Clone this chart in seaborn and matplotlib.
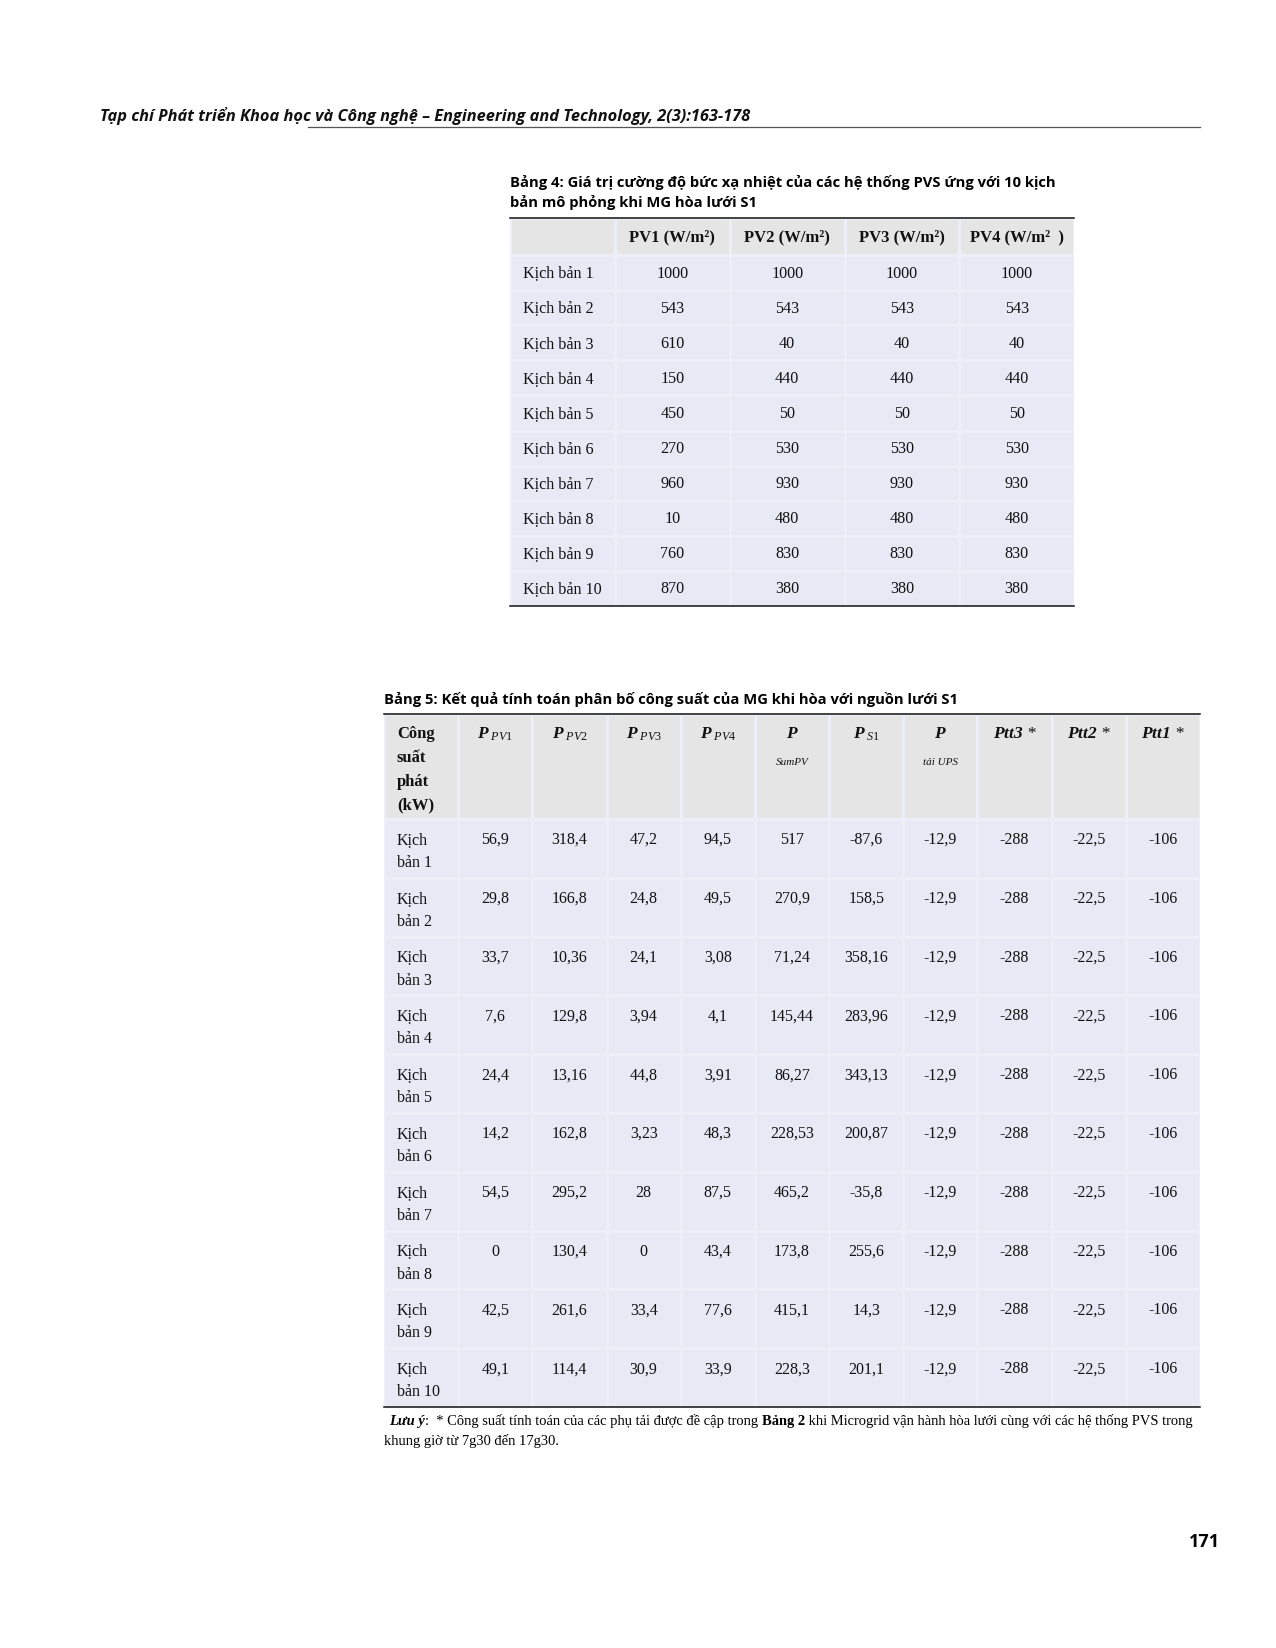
import numpy as np
import matplotlib.pyplot as plt
import seaborn as sns
from matplotlib.colors import ListedColormap

W, H = 1276, 1649
SERIF = 'Liberation Serif'
SANS = 'Open Sans'
GRAY = '#e5e5e5'
LAV = '#e7e9f5'
SEP = '#edeff8'

plt.rcParams['mathtext.fontset'] = 'custom'
plt.rcParams['mathtext.rm'] = SERIF
plt.rcParams['mathtext.it'] = SERIF + ':italic'
plt.rcParams['mathtext.bf'] = SERIF + ':bold'
plt.rcParams['mathtext.bfit'] = SERIF + ':italic:bold'

# ---- Bang 4: irradiance per scenario
scenarios = ['Kịch bản 1', 'Kịch bản 2', 'Kịch bản 3', 'Kịch bản 4', 'Kịch bản 5',
             'Kịch bản 6', 'Kịch bản 7', 'Kịch bản 8', 'Kịch bản 9', 'Kịch bản 10']
irr_headers = ['PV1 (W/m²)', 'PV2 (W/m²)', 'PV3 (W/m²)', 'PV4 (W/m²  )']
irr_pv1 = [1000, 543, 610, 150, 450, 270, 960, 10, 760, 870]
irr_pv2 = [1000, 543, 40, 440, 50, 530, 930, 480, 830, 380]
irr_pv3 = [1000, 543, 40, 440, 50, 530, 930, 480, 830, 380]
irr_pv4 = [1000, 543, 40, 440, 50, 530, 930, 480, 830, 380]

# ---- Bang 5: power flow results (kW)
p_pv1 = [56.9, 29.8, 33.7, 7.6, 24.4, 14.2, 54.5, 0, 42.5, 49.1]
p_pv2 = [318.4, 166.8, 10.36, 129.8, 13.16, 162.8, 295.2, 130.4, 261.6, 114.4]
p_pv3 = [47.2, 24.8, 24.1, 3.94, 44.8, 3.23, 28, 0, 33.4, 30.9]
p_pv4 = [94.5, 49.5, 3.08, 4.1, 3.91, 48.3, 87.5, 43.4, 77.6, 33.9]
p_sumpv = [517, 270.9, 71.24, 145.44, 86.27, 228.53, 465.2, 173.8, 415.1, 228.3]
p_s1 = [-87.6, 158.5, 358.16, 283.96, 343.13, 200.87, -35.8, 255.6, 14.3, 201.1]
p_ups = [-12.9, -12.9, -12.9, -12.9, -12.9, -12.9, -12.9, -12.9, -12.9, -12.9]
ptt3 = [-288, -288, -288, -288, -288, -288, -288, -288, -288, -288]
ptt2 = [-22.5, -22.5, -22.5, -22.5, -22.5, -22.5, -22.5, -22.5, -22.5, -22.5]
ptt1 = [-106, -106, -106, -106, -106, -106, -106, -106, -106, -106]

p_heads = [r'$\mathbfit{P}_{\ \mathit{PV}1}$', r'$\mathbfit{P}_{\ \mathit{PV}2}$',
           r'$\mathbfit{P}_{\ \mathit{PV}3}$', r'$\mathbfit{P}_{\ \mathit{PV}4}$',
           r'$\mathbfit{P}$', r'$\mathbfit{P}_{\ \mathit{S}1}$', r'$\mathbfit{P}$',
           r'$\mathbfit{Ptt3}$ *', r'$\mathbfit{Ptt2}$ *', r'$\mathbfit{Ptt1}$ *']
p_subs = ['', '', '', '', 'SumPV', '', 'tải UPS', '', '', '']
first_head = ['Công', 'suất', 'phát', '(kW)']


def fmt(v):
    return f'{v:g}'.replace('.', ',')


fig = plt.figure(figsize=(W / 100, H / 100), dpi=100)
page = fig.add_axes([0, 0, 1, 1])
page.set_xlim(0, W)
page.set_ylim(H, 0)
page.axis('off')
page.set_zorder(5)
page.patch.set_visible(False)


def block(x0, x1, y0, y1, data, color, **kw):
    ax = fig.add_axes([x0 / W, 1 - y1 / H, (x1 - x0) / W, (y1 - y0) / H])
    sns.heatmap(np.asarray(data, dtype=float), cmap=ListedColormap([color]), vmin=0, vmax=1,
                cbar=False, linewidths=0.8, linecolor=SEP, xticklabels=False,
                yticklabels=False, ax=ax, **kw)
    ax.axis('off')
    return ax


# page header
page.text(100, 116, 'Tạp chí Phát triển Khoa học và Công nghệ – Engineering and Technology, 2(3):163-178',
          fontfamily=SANS, fontweight='bold', fontstyle='italic', fontsize=11.8, va='center', color='#111')
page.plot([308, 1200], [128, 128], color='#555', lw=0.9)

# ---- table 4
page.text(510, 182, 'Bảng 4: Giá trị cường độ bức xạ nhiệt của các hệ thống PVS ứng với 10 kịch',
          fontfamily=SANS, fontweight='bold', fontsize=10.6, va='center')
page.text(510, 203, 'bản mô phỏng khi MG hòa lưới S1',
          fontfamily=SANS, fontweight='bold', fontsize=10.6, va='center')

block(510, 615, 219, 256, [[0]], GRAY)
block(615, 1074, 219, 256, np.zeros((1, 4)), GRAY,
      annot=np.array([irr_headers]), fmt='',
      annot_kws=dict(fontfamily=SERIF, fontweight='bold', fontsize=12, color='#111'))
lab4 = block(510, 615, 256, 607, np.zeros((10, 1)), LAV)
for i, s in enumerate(scenarios):
    lab4.text(0.12, i + 0.5, s, fontfamily=SERIF, fontsize=11.6, va='center', ha='left', color='#111')
irr = np.column_stack([irr_pv1, irr_pv2, irr_pv3, irr_pv4])
block(615, 1074, 256, 607, np.zeros(irr.shape), LAV,
      annot=np.vectorize(str)(irr), fmt='',
      annot_kws=dict(fontfamily=SERIF, fontsize=11.6, color='#111'))
page.plot([510, 1074], [219, 219], color='#111', lw=1.1)
page.plot([510, 1074], [607, 607], color='#111', lw=1.1)

# ---- table 5
page.text(384, 700, 'Bảng 5: Kết quả tính toán phân bố công suất của MG khi hòa với nguồn lưới S1',
          fontfamily=SANS, fontweight='bold', fontsize=10.6, va='center')

head5 = block(384, 1200, 715, 820, np.zeros((1, 11)), GRAY)
for k, s in enumerate(first_head):
    head5.text(0.175, 0.18 + k * 0.227, s, fontfamily=SERIF, fontweight='bold', fontsize=12,
               ha='left', va='center', color='#111')
for j, (s, sub) in enumerate(zip(p_heads, p_subs)):
    head5.text(j + 1.5, 0.18, s, fontfamily=SERIF, fontstyle='italic', fontsize=12.5,
               ha='center', va='center', color='#111')
    if sub:
        head5.text(j + 1.5, 0.45, sub, fontfamily=SERIF, fontstyle='italic', fontsize=8,
                   ha='center', va='center', color='#111')

cols5 = [p_pv1, p_pv2, p_pv3, p_pv4, p_sumpv, p_s1, p_ups, ptt3, ptt2, ptt1]
vals5 = np.column_stack([np.zeros(10)] + [np.asarray(c) for c in cols5])
body5 = block(384, 1200, 820, 1408, np.zeros(vals5.shape), LAV)
for i, s in enumerate(scenarios):
    w1, w2 = s.split(' ', 1)
    body5.text(0.175, i + 0.34, w1, fontfamily=SERIF, fontsize=11.5, ha='left', va='center', color='#111')
    body5.text(0.175, i + 0.73, w2, fontfamily=SERIF, fontsize=11.5, ha='left', va='center', color='#111')
    for j in range(1, vals5.shape[1]):
        body5.text(j + 0.5, i + 0.34, fmt(vals5[i, j]), fontfamily=SERIF, fontsize=11.5,
                   ha='center', va='center', color='#111')
page.plot([384, 1200], [715, 715], color='#111', lw=1.1)
page.plot([384, 1200], [1408, 1408], color='#111', lw=1.1)

# footnote
fs = 10.45
t = page.text(389, 1422, 'Lưu ý', fontfamily=SERIF, fontweight='bold', fontstyle='italic',
              fontsize=fs, va='center')
t = page.annotate(':  * Công suất tính toán của các phụ tải được đề cập trong ', xy=(1, 0), xycoords=t,
                  va='bottom', ha='left', fontfamily=SERIF, fontsize=fs)
t = page.annotate('Bảng 2', xy=(1, 0), xycoords=t, va='bottom', ha='left',
                  fontfamily=SERIF, fontweight='bold', fontsize=fs)
page.annotate(' khi Microgrid vận hành hòa lưới cùng với các hệ thống PVS trong', xy=(1, 0), xycoords=t,
              va='bottom', ha='left', fontfamily=SERIF, fontsize=fs)
page.text(384, 1441, 'khung giờ từ 7g30 đến 17g30.', fontfamily=SERIF, fontsize=fs, va='center')

# page number
page.text(1205, 1542, '171', fontfamily=SANS, fontweight='bold', fontsize=13, ha='center', va='center')

fig.savefig('out.png', dpi=100)
